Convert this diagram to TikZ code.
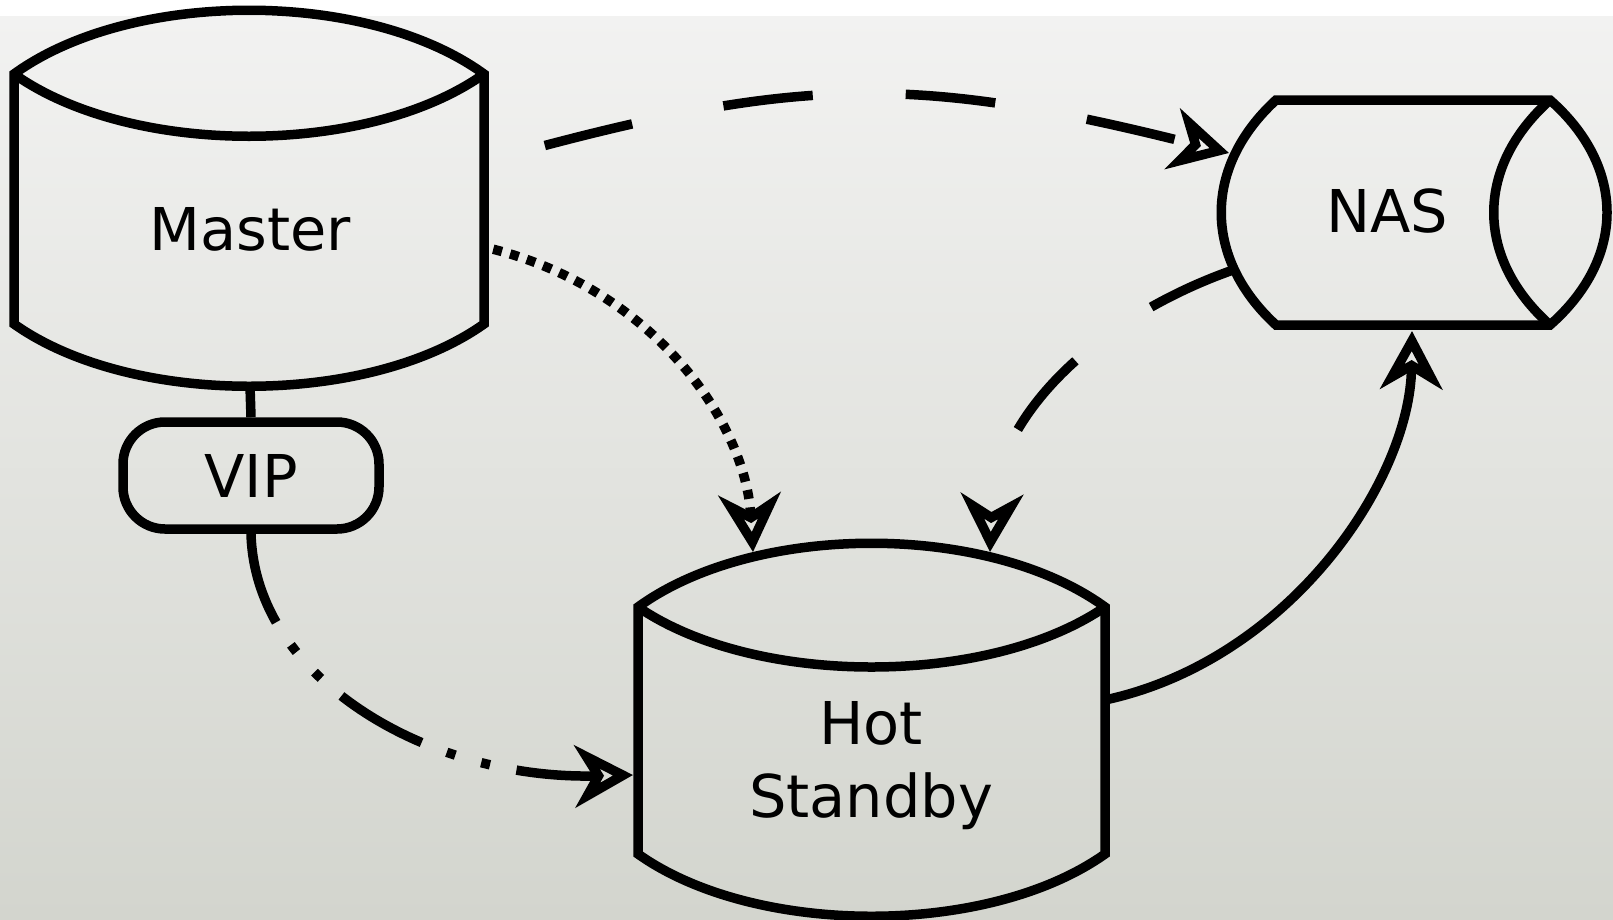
\documentclass[tikz,border=0pt]{standalone}
\usepackage{fontspec}
\setmainfont{DejaVu Sans}
\usetikzlibrary{arrows.meta,calc}
\definecolor{bgtop}{RGB}{242,242,241}
\definecolor{bgbot}{RGB}{211,213,206}
\begin{document}
\begin{tikzpicture}[x=1pt,y=-1pt,
  shapeline/.style={line width=9.5pt, line join=miter},
  lbl/.style={font=\fontsize{59}{73}\selectfont, inner sep=0pt, align=center},
  link/.style={line width=9.5pt},
  head/.style={-{Stealth[open,length=58pt,width=62pt,inset=18pt]}},
  longdash/.style={dash pattern=on 90pt off 93pt},
  dotline/.style={dash pattern=on 9pt off 8.5pt},
  dashdotdot/.style={dash pattern=on 93pt off 27pt on 9pt off 27pt on 9pt off 27pt},
  body/.style={inner sep=0pt}
]
\useasboundingbox (0,0) rectangle (1613,919);
\fill[white] (0,0) rectangle (1613,919);
\shade[top color=bgtop, bottom color=bgbot] (0,16) rectangle (1613,919);

% Master database (cylinder)
\node[body, minimum width=470pt, minimum height=250pt] (master) at (249,199) {};
\draw[shapeline] (14,74) .. controls (131,-11) and (367,-11) .. (484,74)
  -- (484,324) .. controls (367,407) and (131,407) .. (14,324) -- cycle;
\draw[shapeline] (14,74) .. controls (131,157) and (367,157) .. (484,74);
\node[lbl, anchor=base] (master-name) at (250,250) {Master};
\coordinate (master-p1) at (484,162);
\coordinate (master-p2) at (484,247);
\coordinate (master-p3) at (250,386);

% Hot standby database (cylinder)
\node[body, minimum width=467pt, minimum height=373pt] (hot) at (871.5,729.5) {};
\draw[shapeline] (638,607) .. controls (755,522) and (988,522) .. (1105,607)
  -- (1105,854) .. controls (988,937) and (755,937) .. (638,854) -- cycle;
\draw[shapeline] (638,607) .. controls (755,687) and (988,687) .. (1105,607);
\node[lbl] (hot-name) at (871,766) {Hot\\Standby};
\coordinate (hot-p1) at (753,552);
\coordinate (hot-p2) at (990,552);
\coordinate (hot-p3) at (1105,700);
\coordinate (hot-p4) at (633,775);

% NAS storage (horizontal cylinder)
\node[body, minimum width=386pt, minimum height=225pt] (nas) at (1414,212.5) {};
\draw[shapeline] (1276,100) -- (1550,100) .. controls (1626,167) and (1626,258) .. (1550,325)
  -- (1276,325) .. controls (1203,258) and (1203,167) .. (1276,100) -- cycle;
\draw[shapeline] (1550,100) .. controls (1475,167) and (1475,258) .. (1550,325);
\node[lbl, anchor=base] (nas-name) at (1387,232.5) {NAS};
\coordinate (nas-p1) at (1229,153);
\coordinate (nas-p2) at (1233,270);
\coordinate (nas-p3) at (1412,331);

% Virtual IP
\node[lbl, draw, shapeline, rounded corners=42pt, minimum width=256pt, minimum height=107pt]
  (vip) at (251,475.5) {VIP};

% Connections
\draw[link] (master-p3) -- (vip.north);
\draw[link, longdash, dash phase=120pt, head] (master-p1)
  .. controls (793,76) and (907,72) .. (nas-p1);
\draw[link, dotline, dash phase=8pt, head] (master-p2)
  .. controls (650,285) and (745,420) .. (hot-p1);
\draw[link, longdash, head] (nas-p2)
  .. controls (1105,315) and (995,410) .. (hot-p2);
\draw[link, head] (hot-p3)
  .. controls (1290,660) and (1410,480) .. (nas-p3);
\draw[link, dashdotdot, head] (vip.south)
  .. controls (255,680) and (430,780) .. (hot-p4);
\end{tikzpicture}
\end{document}
